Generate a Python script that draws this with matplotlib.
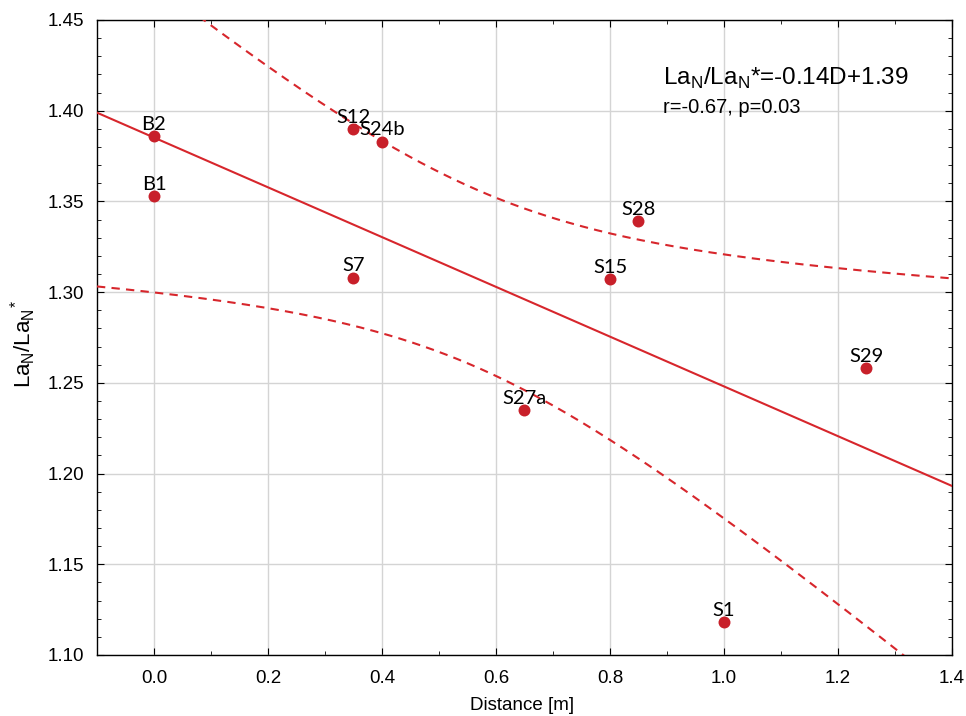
import numpy as np
import matplotlib.pyplot as plt
from matplotlib.ticker import MultipleLocator

# sample points: distance [m] and LaN/LaN*
labels = ["B2", "B1", "S12", "S24b", "S7", "S28", "S15", "S29", "S27a", "S1"]
distance = [0.0, 0.0, 0.35, 0.40, 0.35, 0.85, 0.80, 1.25, 0.65, 1.00]
la_ratio = [1.386, 1.353, 1.390, 1.383, 1.308, 1.339, 1.307, 1.258, 1.235, 1.118]

T_95 = 2.306  # t quantile, df = 8

red = "#d7262c"
pt_red = "#c8202a"

x = np.array(distance)
y = np.array(la_ratio)
n = len(x)
slope, intercept = np.polyfit(x, y, 1)
resid = y - (slope * x + intercept)
s = np.sqrt(np.sum(resid ** 2) / (n - 2))
sxx = np.sum((x - x.mean()) ** 2)

xs = np.linspace(-0.1, 1.4, 300)
fit = slope * xs + intercept
half = T_95 * s * np.sqrt(1 / n + (xs - x.mean()) ** 2 / sxx)

plt.rcParams["font.family"] = ["Liberation Sans", "DejaVu Sans"]
plt.rcParams["mathtext.fontset"] = "custom"
plt.rcParams["mathtext.rm"] = "Liberation Sans"

fig = plt.figure(figsize=(9.66, 7.16), dpi=100)
ax = fig.add_axes([0.1004, 0.0852, 0.8851, 0.8869])

ax.plot(xs, fit, color=red, lw=1.5, zorder=3)
ax.plot(xs, fit + half, color=red, lw=1.5, ls=(0, (4, 3)), zorder=3)
ax.plot(xs, fit - half, color=red, lw=1.5, ls=(0, (4, 3)), zorder=3)
ax.scatter(x, y, s=74, color=pt_red, zorder=4, linewidths=0)

for lab, xi, yi in zip(labels, distance, la_ratio):
    ax.annotate(lab, (xi, yi), xytext=(0, 4.5), textcoords="offset points",
                ha="center", va="baseline", fontsize=14.5, family="Lato", zorder=5)

ax.set_xlim(-0.1, 1.4)
ax.set_ylim(1.10, 1.45)
ax.xaxis.set_major_locator(MultipleLocator(0.2))
ax.xaxis.set_minor_locator(MultipleLocator(0.1))
ax.yaxis.set_major_locator(MultipleLocator(0.05))
ax.yaxis.set_minor_locator(MultipleLocator(0.01))
ax.xaxis.set_major_formatter(plt.FormatStrFormatter("%.1f"))
ax.yaxis.set_major_formatter(plt.FormatStrFormatter("%.2f"))
ax.tick_params(which="both", direction="in", top=True, right=True)
ax.tick_params(which="major", length=5, labelsize=13.5)
ax.tick_params(axis="x", which="major", pad=11)
ax.tick_params(axis="y", which="major", pad=9)
ax.tick_params(which="minor", length=3)
ax.grid(True, which="major", color="#d4d4d4", lw=1)
ax.set_axisbelow(True)
for sp in ax.spines.values():
    sp.set_linewidth(1.0)

ax.set_xlabel("Distance [m]", fontsize=13.5)
ax.xaxis.set_label_coords(0.497, -0.066)
ax.xaxis.label.set_va("top")
ax.set_ylabel(r"La$_\mathregular{N}$/La$_\mathregular{N}$$^\mathregular{*}$", fontsize=16)
ax.yaxis.set_label_coords(-0.069, 0.49)

ax.text(0.662, 0.898, r"La$_\mathregular{N}$/La$_\mathregular{N}$*=-0.14D+1.39",
        transform=ax.transAxes, fontsize=17.5, va="baseline")
ax.text(0.662, 0.853, "r=-0.67, p=0.03", transform=ax.transAxes,
        fontsize=14.5, va="baseline")

fig.savefig("out.png", dpi=100)
